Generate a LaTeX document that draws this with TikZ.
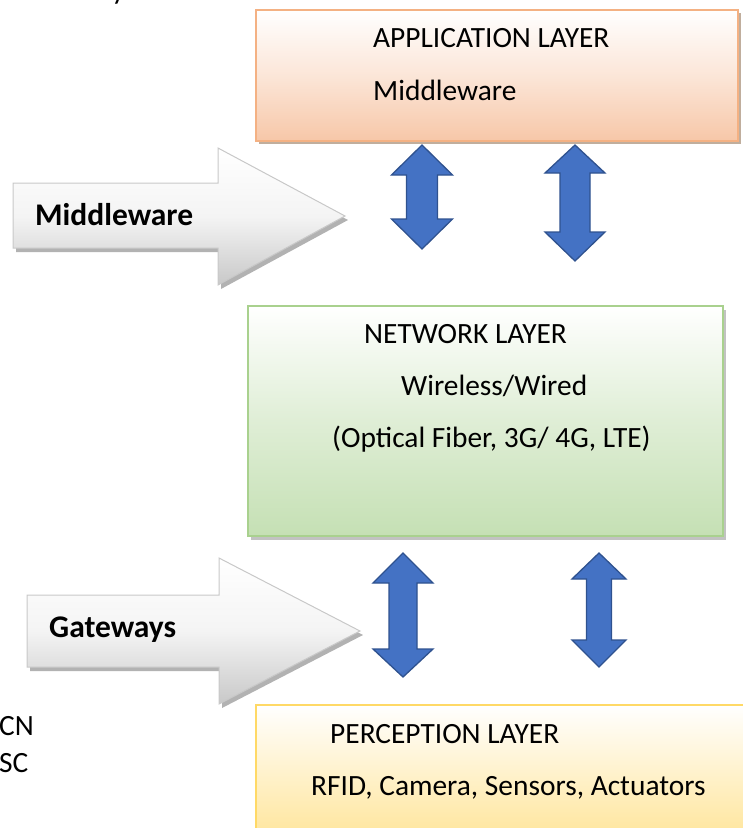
\documentclass[tikz,border=0pt]{standalone}
\usepackage{fontspec}
\setmainfont{Carlito}
\usetikzlibrary{shadows}

\definecolor{appedge}{RGB}{244,177,131}
\definecolor{appfill}{RGB}{247,199,168}
\definecolor{netedge}{RGB}{169,209,142}
\definecolor{netfill}{RGB}{197,224,180}
\definecolor{peredge}{RGB}{255,217,102}
\definecolor{perfill}{RGB}{255,228,150}
\definecolor{arrowblue}{RGB}{68,114,196}
\definecolor{arrowedge}{RGB}{47,82,143}
\definecolor{greyedge}{RGB}{200,200,200}
\definecolor{greyfill}{RGB}{200,200,200}

% vertical double-headed block arrow:
% #1 centre x, #2 top tip, #3 top head base, #4 bottom head base,
% #5 bottom tip, #6 head half-width, #7 shaft half-width
\newcommand\vblockarrow[7]{%
  \draw[bluearrow]
    (#1,#2) -- ({#1+#6},#3) -- ({#1+#7},#3) -- ({#1+#7},#4) -- ({#1+#6},#4)
    -- (#1,#5) -- ({#1-#6},#4) -- ({#1-#7},#4) -- ({#1-#7},#3) -- ({#1-#6},#3) -- cycle;}

\begin{document}
\begin{tikzpicture}[x=1pt,y=-1pt,
  layerbox/.style={draw, line width=2pt, inner sep=0pt, anchor=north west,
    shading=axis, top color=white},
  regtext/.style={inner sep=0pt, anchor=base west,
    font=\fontsize{29.4}{35}\selectfont},
  boldtext/.style={inner sep=0pt, anchor=base west,
    font=\fontsize{31.5}{38}\selectfont\bfseries},
  bluearrow/.style={fill=arrowblue, draw=arrowedge, line width=1.3pt,
    line join=miter},
  greyarrow/.style={draw=greyedge, line width=1pt, shading=axis,
    top color=white, bottom color=greyfill, middle color=white!80!greyfill,
    drop shadow={shadow xshift=3pt, shadow yshift=-4pt, fill=black!55, opacity=.55}},
]
\useasboundingbox (0,0) rectangle (743,828);

% tail of a caption line above, cut by the page edge
\node[regtext, anchor=base east] (captiontail) at (217,-1) {structure with security threats};

% ---- layers ----
\node[layerbox, draw=appedge, bottom color=appfill, middle color=appfill!45,
      minimum width=482pt, minimum height=131pt,
      drop shadow={shadow xshift=3pt, shadow yshift=-3pt, fill=brown!60!black, opacity=.45}]
  (app) at (255,9) {};
\node[regtext] (apptitle) at (373,47) {APPLICATION LAYER};
\node[regtext] (appsub) at (373,100) {Middleware};

\node[layerbox, draw=netedge, bottom color=netfill, middle color=netfill!55,
      minimum width=475pt, minimum height=230pt,
      drop shadow={shadow xshift=3pt, shadow yshift=-4pt, fill=black!60, opacity=.4}]
  (net) at (247,305) {};
\node[regtext] (nettitle) at (364,343) {NETWORK LAYER};
\node[regtext] (netsub) at (401,395) {Wireless/Wired};
\node[regtext] (netlist) at (332,447) {(Optical Fiber, 3G/ 4G, LTE)};

\node[layerbox, draw=peredge, bottom color=perfill, middle color=perfill!50,
      minimum width=500pt, minimum height=140pt]
  (per) at (255,704) {};
\node[regtext] (pertitle) at (330,743) {PERCEPTION LAYER};
\node[regtext] (perlist) at (311,795) {RFID, Camera, Sensors, Actuators};

% ---- links between layers ----
\vblockarrow{422}{145}{175}{219}{249}{30.5}{15.5}
\vblockarrow{575}{145}{173}{232}{261}{30}{15}
\vblockarrow{403}{553}{583}{649}{677}{30}{14}
\vblockarrow{599}{553}{579}{640}{667}{27}{12.5}

% ---- side arrows ----
\draw[greyarrow] (13,183) -- (218,183) -- (218,148) -- (345,216)
  -- (218,285) -- (218,248) -- (13,248) -- cycle;
\node[boldtext] (mwlabel) at (35,225) {Middleware};

\draw[greyarrow] (27,595) -- (219,595) -- (219,558) -- (360,631)
  -- (219,704) -- (219,667) -- (27,667) -- cycle;
\node[boldtext] (gwlabel) at (49,637) {Gateways};

% line ends cut by the left page edge
\node[regtext] (leftcn) at (-1,735) {CN};
\node[regtext] (leftsc) at (-1,772) {SC};
\end{tikzpicture}
\end{document}
